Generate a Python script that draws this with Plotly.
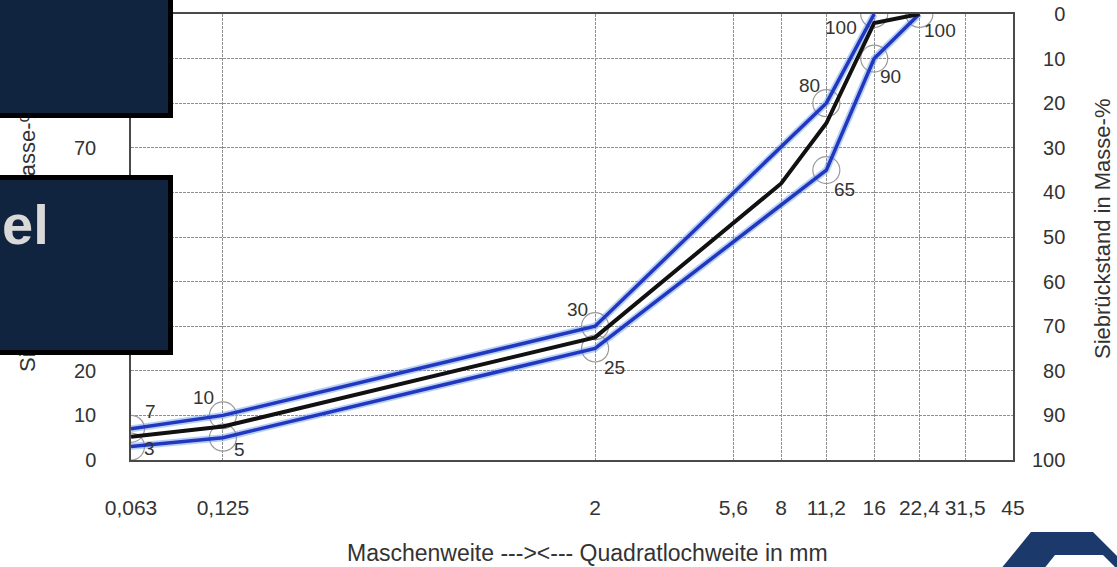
import math
import plotly.graph_objects as go

# ---------------- data ----------------
sieve_sizes = [0.063, 0.125, 2, 5.6, 8, 11.2, 16, 22.4, 31.5, 45]
sieve_labels = ["0,063", "0,125", "2", "5,6", "8", "11,2", "16", "22,4", "31,5", "45"]

upper_x = [0.063, 0.125, 2, 11.2, 16]
upper_y = [7, 10, 30, 80, 100]

lower_x = [0.063, 0.125, 2, 11.2, 16, 22.4]
lower_y = [3, 5, 25, 65, 90, 100]

mix_x = [0.063, 0.125, 2, 5.6, 8, 11.2, 16, 22.4]
mix_y = [5.2, 7.5, 27.5, 53, 62, 75.5, 98, 100]

percent_ticks = list(range(0, 101, 10))

x_title = "Maschenweite ---><--- Quadratlochweite in mm"
y_title_left = "Siebdurchgang in Masse-%"
y_title_right = "Siebrückstand in Masse-%"
overlay_text = "el"

# ---------------- layout geometry (pixels) ----------------
W, H = 1117, 567
L, R, T, B = 131, 1013, 14, 460
FONT = "Liberation Sans, Arial, sans-serif"
TXT = "#333333"


def px(xpix):
    return (xpix - L) / (R - L)


def py(ypix):
    return (B - ypix) / (B - T)


fig = go.Figure()

BLUE = "#2236c0"
HALO = "rgba(90,150,235,0.45)"

# circles around the limit points
fig.add_trace(go.Scatter(
    x=upper_x + lower_x, y=upper_y + lower_y, mode="markers",
    marker=dict(symbol="circle-open", size=27, color="#9a9a9a", line=dict(width=1.2)),
    hoverinfo="skip", showlegend=False))

for xs, ys in [(upper_x, upper_y), (lower_x, lower_y)]:
    fig.add_trace(go.Scatter(x=xs, y=ys, mode="lines",
                             line=dict(color=HALO, width=7),
                             hoverinfo="skip", showlegend=False))
    fig.add_trace(go.Scatter(x=xs, y=ys, mode="lines",
                             line=dict(color=BLUE, width=3.5),
                             showlegend=False))

fig.add_trace(go.Scatter(x=mix_x, y=mix_y, mode="lines",
                         line=dict(color="#111111", width=4),
                         showlegend=False))

# dummy trace to activate the right-hand axis
fig.add_trace(go.Scatter(x=[sieve_sizes[0]], y=[0], yaxis="y2", mode="markers",
                         marker=dict(opacity=0), hoverinfo="skip", showlegend=False))

annotations = []

# axis titles
annotations.append(dict(text=y_title_left, xref="paper", yref="paper",
                        x=px(27), y=py(238), textangle=-90, showarrow=False,
                        xanchor="center", yanchor="middle",
                        font=dict(family=FONT, size=22, color=TXT)))
annotations.append(dict(text=y_title_right, xref="paper", yref="paper",
                        x=px(1103), y=py(229), textangle=-90, showarrow=False,
                        xanchor="center", yanchor="middle",
                        font=dict(family=FONT, size=22, color=TXT)))
annotations.append(dict(text=x_title, xref="paper", yref="paper",
                        x=px(587), y=py(553), showarrow=False,
                        xanchor="center", yanchor="middle",
                        font=dict(family=FONT, size=23, color=TXT)))

# value labels next to the limit points
upper_offsets = [(19, -17), (-19, -18), (-18, -17), (-17, -18), (-33, 13)]
lower_offsets = [(18, 2), (17, 12), (19, 19), (18, 19), (16, 18), (21, 16)]
for xs, ys, offs in [(upper_x, upper_y, upper_offsets), (lower_x, lower_y, lower_offsets)]:
    for xv, yv, (dx, dy) in zip(xs, ys, offs):
        annotations.append(dict(text=str(int(yv)), x=math.log10(xv), y=yv,
                                xref="x", yref="y", showarrow=False,
                                xshift=dx, yshift=-dy,
                                font=dict(family=FONT, size=19, color=TXT)))

# dark overlay boxes
NAVY = "#10233f"
for top, bottom in [(-6, 118), (175, 355)]:
    annotations.append(dict(text="\u00a0", xref="paper", yref="paper",
                            x=px(-6), y=py(top), xanchor="left", yanchor="top",
                            width=179 - 10, height=(bottom - top) - 10,
                            bgcolor=NAVY, bordercolor="#000000", borderwidth=5,
                            borderpad=0, showarrow=False))
annotations.append(dict(text=overlay_text, xref="paper", yref="paper",
                        x=px(1), y=py(224), xanchor="left", yanchor="middle",
                        showarrow=False, borderpad=0,
                        font=dict(family=FONT, size=56, color="#d9d9d9", weight="bold")))

# logo fragment bottom right
LOGO = "#1b3a6b"
outer = [(1000, 570), (1031, 532), (1093, 532), (1120, 559), (1120, 570)]
inner = [(1043, 570), (1055, 555), (1103, 555), (1118, 570)]


def path_from(pts):
    return "M " + " L ".join(f"{px(a):.5f},{py(b):.5f}" for a, b in pts) + " Z"


shapes = [
    dict(type="path", xref="paper", yref="paper", path=path_from(outer),
         fillcolor=LOGO, line=dict(width=0), layer="above"),
    dict(type="path", xref="paper", yref="paper", path=path_from(inner),
         fillcolor="white", line=dict(width=0), layer="above"),
]

grid = dict(showgrid=True, gridcolor="#8f8f8f", gridwidth=1, griddash="3px,1px")

right_text = [f"{v:>3}".replace(" ", "\u2007") for v in percent_ticks]

fig.update_layout(
    width=W, height=H,
    margin=dict(l=L, r=W - R, t=T, b=H - B, pad=0, autoexpand=False),
    paper_bgcolor="white", plot_bgcolor="white",
    showlegend=False,
    font=dict(family=FONT, color=TXT),
    xaxis=dict(type="log", range=[math.log10(sieve_sizes[0]), math.log10(sieve_sizes[-1])],
               tickvals=sieve_sizes, ticktext=sieve_labels, ticks="",
               tickfont=dict(family=FONT, size=21, color=TXT), ticklabelstandoff=28,
               showline=True, mirror=True, linecolor="#4a4a4a", linewidth=1.5,
               zeroline=False, automargin=False, **grid),
    yaxis=dict(range=[0, 100], tickvals=percent_ticks, ticks="",
               tickfont=dict(family=FONT, size=20, color=TXT), ticklabelstandoff=29,
               showline=True, mirror=True, linecolor="#4a4a4a", linewidth=1.5,
               zeroline=False, automargin=False, **grid),
    yaxis2=dict(overlaying="y", side="right", range=[100, 0], tickvals=percent_ticks,
                ticktext=right_text, ticks="", showgrid=False, zeroline=False,
                showline=False, tickfont=dict(family=FONT, size=20, color=TXT),
                ticklabelstandoff=18, automargin=False),
    annotations=annotations,
    shapes=shapes,
)

fig.write_html(
    "out.html",
    config={"displayModeBar": False},
    post_script="document.body.style.margin='0';document.body.style.overflow='hidden';",
)
